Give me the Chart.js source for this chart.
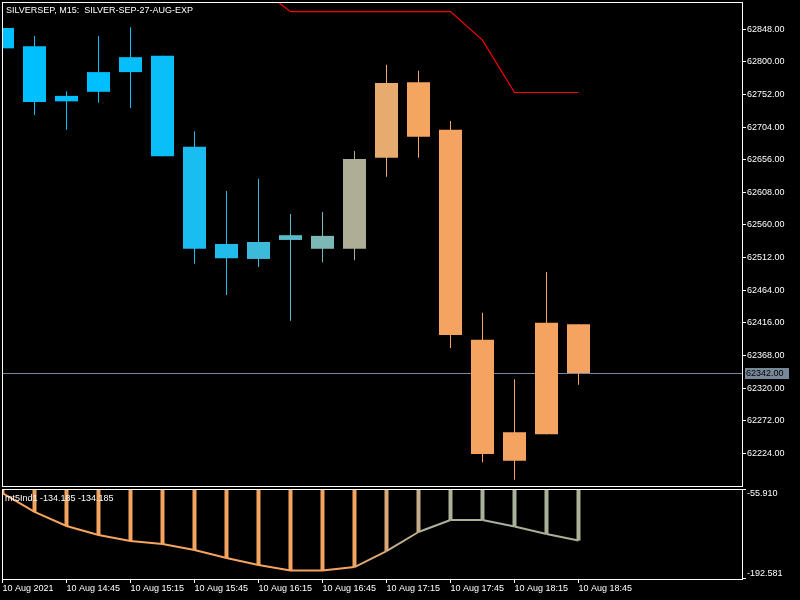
<!DOCTYPE html>
<html><head><meta charset="utf-8">
<script src="https://cdn.jsdelivr.net/npm/chart.js@4.4.1/dist/chart.umd.min.js"></script>
<style>
html,body{margin:0;padding:0;background:#000;width:800px;height:600px;overflow:hidden;}
#c1{position:absolute;left:0;top:0;}
#c2{position:absolute;left:0;top:487px;}
</style></head><body>
<canvas id="c1" width="800" height="488"></canvas>
<canvas id="c2" width="800" height="113"></canvas>
<script>
// ---------- data ----------
const symbolTitle = 'SILVERSEP, M15:  SILVER-SEP-27-AUG-EXP';
const indName = 'mt5Ind1';
const times = ['14:15','14:30','14:45','15:00','15:15','15:30','15:45','16:00','16:15','16:30',
               '16:45','17:00','17:15','17:30','17:45','18:00','18:15','18:30','18:45'];
const open  = [62850,62823,62742,62756,62785,62809,62675,62532,62510,62538,62544,62525,62659,62770,62700,62391,62213,62252,62414];
const high  = [62850,62838,62757,62838,62851,62809,62698,62610,62628,62576,62579,62669,62796,62787,62713,62431,62333,62491,62414];
const low   = [62820,62722,62700,62740,62732,62661,62503,62457,62498,62419,62505,62508,62631,62659,62379,62211,62185,62252,62325];
const close = [62820,62741,62750,62785,62807,62661,62525,62511,62535,62545,62525,62657,62769,62690,62398,62223,62255,62416,62342];
const stopLine = [null,null,null,null,null,null,null,null,62910,62874,62874,62874,62874,62874,62874,62832,62755,62755,62755];
const indValues = [-62.0,-90.8,-112.1,-125.8,-134.9,-139.4,-148.6,-160.7,-171.3,-179.7,-179.7,-174.4,-150.1,-121.2,-103.0,-103.0,-112.9,-124.2,-134.185];
const priceTicks = [62224,62272,62320,62368,62416,62464,62512,62560,62608,62656,62704,62752,62800,62848];
const indTicks = [-55.910,-192.581];
const xTickIdx = [0,2,4,6,8,10,12,14,16,18];
const xTickLabels = ['10 Aug 2021','10 Aug 14:45','10 Aug 15:15','10 Aug 15:45','10 Aug 16:15',
                     '10 Aug 16:45','10 Aug 17:15','10 Aug 17:45','10 Aug 18:15','10 Aug 18:45'];

// ---------- styles ----------
const candleColors = ['#00BFFF','#00BFFF','#00BFFF','#00BFFF','#05BEFA','#0ABEF7','#1ABDF0','#22BCEB','#3DBADA',
                      '#5ABACA','#7BB8B6','#ADAE95','#E7AB6F','#F4A661','#F4A460','#F4A460','#F4A460','#F4A460','#F4A460'];
const indColors = ['#F4A460','#F4A460','#F4A460','#F4A460','#F4A460','#F4A460','#F4A460','#F4A460','#F4A460',
                   '#F4A460','#F4A460','#F4A460','#DCA877','#C5AD8A','#AFB098','#A9B09B','#A8B19B','#AAB098','#ADB095'];
const FONT_FAMILY = '"Liberation Sans", Arial, sans-serif';
const FONT = '9px ' + FONT_FAMILY;
const X_MIN = -0.015625, X_MAX = 23.109375;
const Y_MIN = 62175.87, Y_MAX = 62888.18;
const bidPrice = close[close.length - 1];

Chart.defaults.font.family = FONT_FAMILY;
Chart.defaults.font.size = 9;
Chart.defaults.color = '#FFFFFF';

const idx = times.map((t, i) => i);

const noPad = s => { s.paddingTop = 0; s.paddingBottom = 0; s.paddingLeft = 0; s.paddingRight = 0; };

const xScaleBase = {
  type: 'linear', min: X_MIN, max: X_MAX, offset: false,
  afterBuildTicks: s => { s.ticks = xTickIdx.map(v => ({ value: v })); }
};

const mainDeco = {
  id: 'mainDeco',
  beforeDatasetsDraw(chart) {
    const { ctx, chartArea: a, scales: { y } } = chart;
    const py = Math.round(y.getPixelForValue(bidPrice)) + 0.5;
    ctx.save();
    ctx.strokeStyle = '#778899'; ctx.lineWidth = 1;
    ctx.beginPath(); ctx.moveTo(a.left, py); ctx.lineTo(a.right, py); ctx.stroke();
    ctx.restore();
  },
  afterDraw(chart) {
    const { ctx, chartArea: a, scales: { y } } = chart;
    ctx.save();
    ctx.strokeStyle = '#FFFFFF'; ctx.lineWidth = 1;
    ctx.strokeRect(a.left + 0.5, a.top + 0.5, a.right - a.left, a.bottom - a.top);
    const py = Math.round(y.getPixelForValue(bidPrice));
    ctx.fillStyle = '#778899';
    ctx.fillRect(a.right + 3, py - 5, 44, 11);
    ctx.font = FONT; ctx.textAlign = 'left'; ctx.textBaseline = 'middle';
    ctx.fillStyle = '#000000';
    ctx.fillText(bidPrice.toFixed(2), a.right + 4, py + 0.5);
    ctx.fillStyle = '#FFFFFF'; ctx.textBaseline = 'alphabetic';
    ctx.fillText(symbolTitle, a.left + 4, a.top + 11);
    ctx.restore();
  }
};

new Chart(document.getElementById('c1'), {
  data: {
    datasets: [
      { type: 'bar', label: 'wick', data: idx.map(i => ({ x: i, y: [low[i], high[i]] })),
        backgroundColor: candleColors, grouped: false, categoryPercentage: 1, barPercentage: 1 / 32,
        inflateAmount: 0, borderWidth: 0, order: 2 },
      { type: 'bar', label: 'body', data: idx.map(i => ({ x: i, y: [open[i], close[i]] })),
        backgroundColor: candleColors, grouped: false, categoryPercentage: 1, barPercentage: 23 / 32,
        inflateAmount: 0, borderWidth: 0, order: 1 },
      { type: 'line', label: 'stop', data: idx.map(i => ({ x: i, y: stopLine[i] })),
        borderColor: '#FF0000', borderWidth: 1.2, pointRadius: 0, clip: 0, order: 0 }
    ]
  },
  options: {
    responsive: false, animation: false, events: [],
    layout: { padding: { left: 2, top: 2, right: 0, bottom: 2 } },
    plugins: { legend: { display: false }, tooltip: { enabled: false } },
    scales: {
      x: Object.assign({}, xScaleBase, { display: false, grid: { offset: false } }),
      y: {
        type: 'linear', position: 'right', min: Y_MIN, max: Y_MAX,
        afterBuildTicks: s => { s.ticks = priceTicks.map(v => ({ value: v })); },
        afterFit: s => { s.width = 58; noPad(s); },
        ticks: { color: '#FFFFFF', padding: 1, autoSkip: false, callback: v => Number(v).toFixed(2) },
        grid: { drawOnChartArea: false, drawTicks: true, tickLength: 4, color: '#FFFFFF' },
        border: { display: false }
      }
    }
  },
  plugins: [mainDeco]
});

const indDeco = {
  id: 'indDeco',
  afterDraw(chart) {
    const { ctx, chartArea: a, scales: { y } } = chart;
    ctx.save();
    ctx.strokeStyle = '#FFFFFF'; ctx.lineWidth = 1;
    ctx.strokeRect(a.left + 0.5, a.top + 0.5, a.right - a.left, a.bottom - a.top);
    ctx.font = FONT; ctx.fillStyle = '#FFFFFF'; ctx.textAlign = 'left';
    const last = indValues[indValues.length - 1];
    ctx.textBaseline = 'alphabetic';
    ctx.fillText(indName + ' ' + last.toFixed(3) + ' ' + last.toFixed(3), a.left + 3, a.top + 12);
    ctx.textBaseline = 'middle';
    indTicks.forEach((v, k) => {
      const py = Math.round(y.getPixelForValue(v));
      const lineY = k === 0 ? py + 0.5 : py - 0.5;
      ctx.beginPath(); ctx.moveTo(a.right, lineY); ctx.lineTo(a.right + 4, lineY); ctx.stroke();
      const ty = k === 0 ? py + 4.5 : py - 5;
      ctx.fillText(v.toFixed(3), a.right + 5, ty);
    });
    ctx.restore();
  }
};

new Chart(document.getElementById('c2'), {
  data: {
    datasets: [
      { type: 'bar', label: 'hist', data: idx.map(i => ({ x: i, y: [0, indValues[i]] })),
        backgroundColor: indColors, grouped: false, categoryPercentage: 1, barPercentage: 4 / 32,
        inflateAmount: 0, borderWidth: 0, clip: 0, order: 1 },
      { type: 'line', label: indName, data: idx.map(i => ({ x: i, y: indValues[i] })),
        borderColor: indColors[0], borderWidth: 2, pointRadius: 0, clip: 0, order: 0,
        segment: { borderColor: c => indColors[c.p1DataIndex] } }
    ]
  },
  options: {
    responsive: false, animation: false, events: [],
    layout: { padding: { left: 2, top: 2, right: 0, bottom: 0 } },
    plugins: { legend: { display: false }, tooltip: { enabled: false } },
    scales: {
      x: Object.assign({}, xScaleBase, {
        position: 'bottom',
        afterFit: s => { s.height = 21; noPad(s); },
        ticks: { align: 'start', color: '#FFFFFF', padding: 0, maxRotation: 0, autoSkip: false,
                 callback: v => xTickLabels[xTickIdx.indexOf(v)] },
        grid: { offset: false, drawOnChartArea: false, drawTicks: true, tickLength: 4, color: '#FFFFFF' },
        border: { display: false }
      }),
      y: {
        type: 'linear', position: 'right', min: indTicks[1], max: indTicks[0],
        afterFit: s => { s.width = 58; noPad(s); },
        ticks: { display: false },
        grid: { display: false },
        border: { display: false }
      }
    }
  },
  plugins: [indDeco]
});
</script>
</body></html>
